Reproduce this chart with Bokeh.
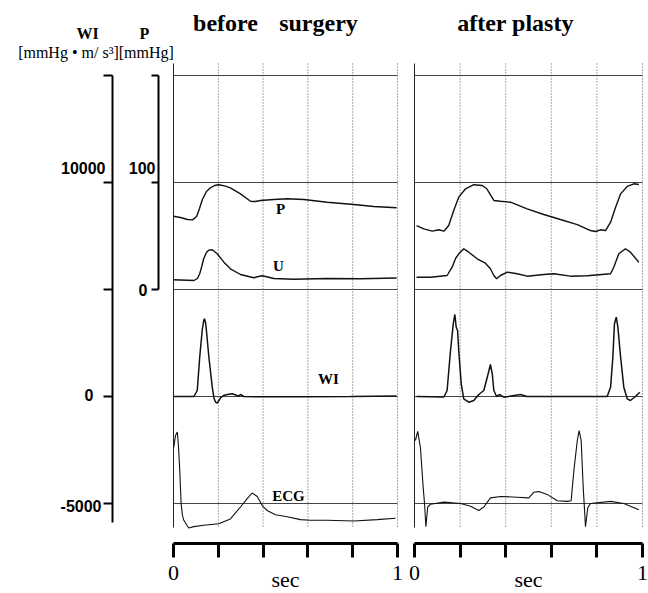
from bokeh.plotting import figure
from bokeh.models import Range1d, LinearAxis, FixedTicker
from bokeh.core.properties import value
from bokeh.embed import file_html
from bokeh.resources import INLINE

# ---------------- data ----------------
time_ticks = [0, 0.2, 0.4, 0.6, 0.8, 1]
time_tick_labels = {0: "0", 0.2: "", 0.4: "", 0.6: "", 0.8: "", 1: "1"}
wi_ticks = [-5000, 0, 5000, 10000, 15000]
p_ticks = [0, 100, 200]
ref_levels_wi = [15000, 10000, 5000, 0, -5000]   # horizontal reference lines (WI units)

# before surgery
before_P_t = [0.000, 0.031, 0.063, 0.085, 0.103, 0.116, 0.129, 0.147, 0.165, 0.183, 0.202, 0.228,
              0.254, 0.299, 0.344, 0.366, 0.388, 0.448, 0.508, 0.582, 0.686, 0.805, 0.894, 0.996]
before_P = [68.5, 67.3, 65.4, 65.1, 68.2, 75.7, 84.1, 91.6, 95.0, 97.2, 97.9, 96.9,
            94.9, 89.4, 82.5, 82.2, 83.2, 84.1, 84.8, 84.1, 81.6, 79.4, 77.6, 76.4]

before_U_t = [0, 0.091, 0.107, 0.117, 0.126, 0.135, 0.147, 0.158, 0.173, 0.195, 0.225, 0.254,
              0.299, 0.358, 0.379, 0.397, 0.42, 0.448, 0.537, 0.686, 0.835, 0.996]
before_U = [1.8, 0, 5, 16.8, 35, 55, 70, 76, 76.8, 66.8, 45.8, 29.3,
            15, 6.8, 10, 11.8, 8.8, 5, 3, 5, 4.3, 6.3]

before_WI_t = [0, 0.091, 0.106, 0.117, 0.128, 0.135, 0.138, 0.143, 0.147, 0.158, 0.173, 0.181,
               0.188, 0.195, 0.203, 0.210, 0.223, 0.240, 0.262, 0.284, 0.292, 0.299, 0.314,
               0.388, 0.567, 0.79, 0.996]
before_WI = [0, 0, 280, 1836, 3084, 3551, 3631, 3458, 3084, 1836, 435, -93,
             -266, -313, -187, -61, 47, 93, 126, 47, 23, 93, 0,
             -14, -14, 0, 23]

before_ECG_t = [0.001, 0.009, 0.017, 0.022, 0.028, 0.034, 0.040, 0.046, 0.068, 0.091, 0.135,
                0.202, 0.254, 0.299, 0.329, 0.351, 0.374, 0.396, 0.418, 0.455, 0.508, 0.567,
                0.612, 0.686, 0.805, 0.909, 0.991]
before_ECG = [0.80, 0.97, 1.02, 0.83, 0.47, 0.00, -0.17, -0.24, -0.35, -0.33, -0.31,
              -0.29, -0.22, -0.05, 0.07, 0.15, 0.10, -0.03, -0.10, -0.16, -0.19, -0.23,
              -0.24, -0.24, -0.25, -0.23, -0.21]

# after plasty
after_P_t = [0.009, 0.041, 0.078, 0.107, 0.129, 0.150, 0.172, 0.194, 0.224, 0.260, 0.297, 0.316,
             0.326, 0.348, 0.377, 0.421, 0.494, 0.567, 0.640, 0.714, 0.772, 0.794, 0.816, 0.838,
             0.860, 0.882, 0.904, 0.933, 0.962, 0.984]
after_P = [59.8, 56.7, 54.5, 55.8, 54.5, 59.8, 73.8, 86.3, 94.1, 97.9, 97.2, 94.4,
           90.9, 83.2, 82.5, 81.6, 75.4, 70.1, 65.4, 60.7, 55.1, 54.2, 55.8, 55.1,
           62.9, 76.9, 89.4, 96.3, 98.8, 98.1]

after_U_t = [0.009, 0.070, 0.143, 0.165, 0.180, 0.194, 0.216, 0.238, 0.275, 0.311, 0.333, 0.348,
             0.360, 0.377, 0.407, 0.450, 0.494, 0.567, 0.611, 0.684, 0.757, 0.860, 0.874, 0.896,
             0.925, 0.947, 0.984]
after_U = [8.3, 8.3, 12.5, 33.3, 55, 66.8, 79.3, 70.8, 54.3, 43.3, 29.3, 12.5,
           4.3, 12.5, 20.8, 16.8, 10.8, 15, 16.8, 10.8, 11.8, 16.8, 33.3, 66.8,
           79.3, 70.8, 45.8]

after_WI_t = [0.009, 0.129, 0.143, 0.158, 0.170, 0.177, 0.183, 0.189, 0.194, 0.205, 0.216, 0.238,
              0.260, 0.282, 0.304, 0.323, 0.333, 0.341, 0.348, 0.360, 0.374, 0.392, 0.465, 0.494,
              0.714, 0.845, 0.860, 0.870, 0.877, 0.885, 0.892, 0.904, 0.918, 0.933, 0.947, 0.969,
              0.988]
after_WI = [0, -23, 280, 2150, 3397, 3832, 3238, 3084, 2150, 593, -107, -266,
            -187, 93, 280, 1061, 1495, 1061, 280, 0, 93, -33, 93, 0,
            0, 0, 435, 1836, 3397, 3706, 3238, 1836, 435, -107, -187, 0,
            201]

after_ECG_t = [0.004, 0.014, 0.026, 0.038, 0.044, 0.050, 0.058, 0.070, 0.129, 0.202, 0.246, 0.282,
               0.304, 0.333, 0.377, 0.450, 0.501, 0.523, 0.545, 0.582, 0.626, 0.670, 0.687, 0.699,
               0.714, 0.722, 0.731, 0.740, 0.750, 0.760, 0.772, 0.860, 0.918, 0.947, 0.984]
after_ECG = [0.90, 1.03, 0.80, 0.23, 0.00, -0.33, -0.05, -0.01, 0.02, 0.00, -0.04, -0.10,
             -0.05, 0.08, 0.10, 0.09, 0.08, 0.16, 0.17, 0.13, 0.04, 0.03, 0.04, 0.47,
             0.90, 1.04, 0.90, 0.23, -0.33, -0.06, 0.00, 0.03, 0.00, -0.04, -0.09]

# ---------------- layout ----------------
W, H = 648, 593
TOP, BOT = 0, H
LEFT, RIGHT = 0, W
SEC_B = 224        # px per second, before panel
SEC_A = 228        # px per second, after panel
WI_PPU = 0.0214    # px per WI unit


def yrange(zero_py, ppu):
    return Range1d(start=(zero_py - BOT) / ppu, end=(zero_py - TOP) / ppu)


def xrange(zero_px, ppu):
    return Range1d(start=(LEFT - zero_px) / ppu, end=(RIGHT - zero_px) / ppu)


def PX(px):  # page x -> before-panel seconds (for annotation placement)
    return (px - 173) / SEC_B


def PY(py):  # page y -> WI units (for annotation placement)
    return (396 - py) / WI_PPU


SERIF = value("Liberation Serif")
SANS = value("Liberation Sans")

p = figure(width=W, height=H, output_backend="svg", toolbar_location=None,
           x_axis_type=None, y_axis_type=None, min_border=0,
           x_range=xrange(173, SEC_B), y_range=yrange(396, WI_PPU))
p.extra_x_ranges = {"after": xrange(414, SEC_A)}
p.extra_y_ranges = {"P": yrange(289, 1.07), "U": yrange(280, 0.4), "ECG": yrange(503, 70)}
p.outline_line_color = None
p.background_fill_color = "white"
p.border_fill_color = "white"

panels = [
    ("default", before_P_t, before_P, before_U_t, before_U, before_WI_t, before_WI, before_ECG_t, before_ECG),
    ("after", after_P_t, after_P, after_U_t, after_U, after_WI_t, after_WI, after_ECG_t, after_ECG),
]

for xr, Pt, Pv, Ut, Uv, Wt, Wv, Et, Ev in panels:
    kw = {"x_range_name": xr}
    # vertical grid lines
    p.segment(x0=time_ticks[1:], x1=time_ticks[1:], y0=PY(63), y1=PY(527),
              line_color="#555555", line_width=1, line_dash="1 2", **kw)
    p.segment(x0=[0], x1=[0], y0=PY(63), y1=PY(527), line_color="#222222", line_width=1, **kw)
    # horizontal reference lines
    p.segment(x0=0, x1=1, y0=ref_levels_wi, y1=ref_levels_wi,
              line_color="#444444", line_width=1, **kw)
    # traces
    p.line(Pt, Pv, y_range_name="P", line_color="#111111", line_width=1.4, **kw)
    p.line(Ut, Uv, y_range_name="U", line_color="#111111", line_width=1.4, **kw)
    p.line(Wt, Wv, line_color="#111111", line_width=1.5, **kw)
    p.line(Et, Ev, y_range_name="ECG", line_color="#111111", line_width=1.1, **kw)
    # time axis
    ax = LinearAxis(x_range_name=xr, fixed_location=PY(543), bounds=(0, 1),
                    ticker=FixedTicker(ticks=time_ticks), major_label_overrides=time_tick_labels,
                    major_tick_in=0, major_tick_out=14, minor_tick_in=0, minor_tick_out=0,
                    axis_line_width=3, major_tick_line_width=3,
                    axis_line_color="black", major_tick_line_color="black",
                    major_label_text_font="Liberation Serif", major_label_text_font_size="22px",
                    major_label_text_color="black", major_label_standoff=8)
    p.add_layout(ax, "below")
    # "sec" label
    p.text(x=[0.5], y=[PY(579)], text=["sec"], text_font=SERIF, text_font_size="22px",
           text_align="center", text_baseline="middle", text_color="black", **kw)

# left axes
wi_axis = LinearAxis(fixed_location=PX(112), ticker=FixedTicker(ticks=wi_ticks),
                     bounds=(PY(522), 15000),
                     major_label_overrides={t: "" for t in wi_ticks},
                     major_tick_in=0, major_tick_out=9, minor_tick_in=0, minor_tick_out=0,
                     axis_line_width=2, major_tick_line_width=2,
                     axis_line_color="black", major_tick_line_color="black")
p.add_layout(wi_axis, "left")
p_axis = LinearAxis(y_range_name="P", fixed_location=PX(158), ticker=FixedTicker(ticks=p_ticks),
                    bounds=(0, 200),
                    major_label_overrides={t: "" for t in p_ticks},
                    major_tick_in=0, major_tick_out=7, minor_tick_in=0, minor_tick_out=0,
                    axis_line_width=2, major_tick_line_width=2,
                    axis_line_color="black", major_tick_line_color="black")
p.add_layout(p_axis, "left")

# left-axis numbers
p.text(x=[PX(105), PX(155), PX(147), PX(93), PX(101)],
       y=[PY(167), PY(167), PY(289), PY(394), PY(505)],
       text=["10000", "100", "0", "0", "-5000"],
       text_font=SANS, text_font_style="bold", text_font_size="16px",
       text_align="right", text_baseline="middle", text_color="black")

# headers
p.text(x=[PX(87), PX(144)], y=[PY(33), PY(33)], text=["WI", "P"],
       text_font=SERIF, text_font_style="bold", text_font_size="16px",
       text_align="center", text_baseline="middle", text_color="black")
p.text(x=[PX(95.5)], y=[PY(52)], text=["[mmHg \u2022 m/ s\u00b3][mmHg]"],
       text_font=SERIF, text_font_size="16px",
       text_align="center", text_baseline="middle", text_color="black")

# titles
p.text(x=[PX(225), PX(318), PX(515)], y=[PY(22)] * 3, text=["before", "surgery", "after plasty"],
       text_font=SERIF, text_font_style="bold", text_font_size="24px",
       text_align="center", text_baseline="middle", text_color="black")

# trace labels
p.text(x=[PX(280), PX(278), PX(328), PX(288)], y=[PY(208), PY(265), PY(378), PY(495)],
       text=["P", "U", "WI", "ECG"],
       text_font=SERIF, text_font_style="bold", text_font_size="15px",
       text_align="center", text_baseline="middle", text_color="black")

open("out.html", "w").write(file_html(p, INLINE))
